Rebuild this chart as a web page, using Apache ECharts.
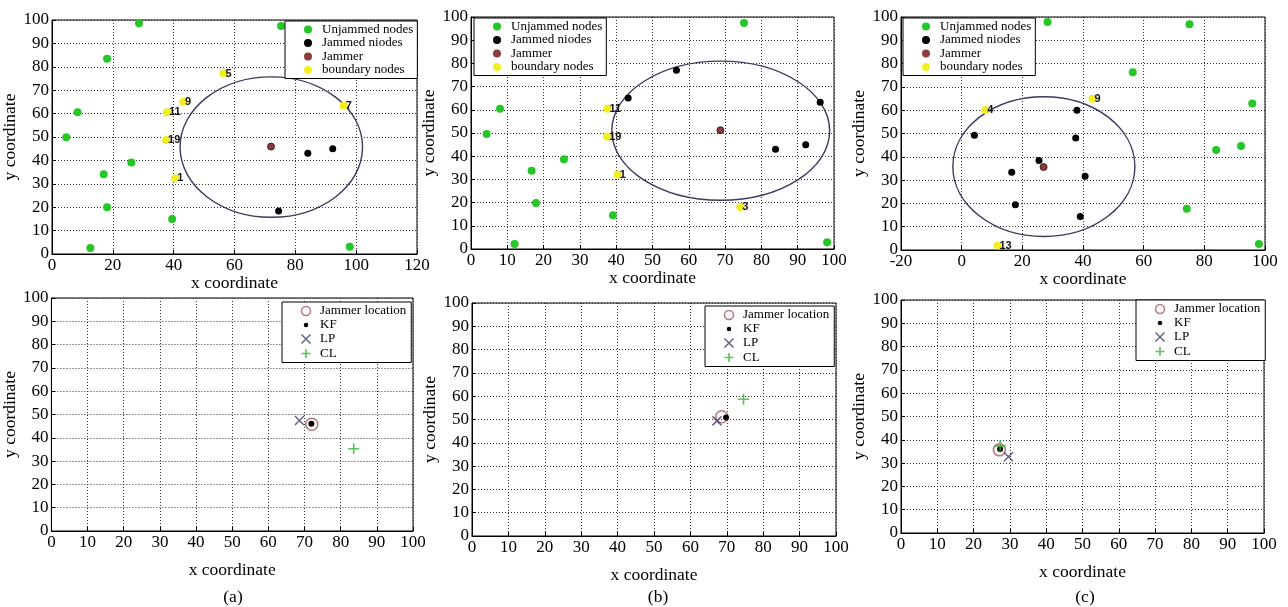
<!DOCTYPE html>
<html><head><meta charset="utf-8">
<script src="https://cdn.jsdelivr.net/npm/echarts@6/dist/echarts.min.js"></script>
<style>html,body{margin:0;padding:0;background:#fff}#c{width:1288px;height:607px}</style>
</head><body><div id="c"></div>
<script>
// ---------- Top row: sensor nodes ----------
// (a)
const aUnjammed = [[28.6,98.6],[75.3,97.4],[18.1,83.4],[8.4,60.6],[4.7,49.9],[26.1,39.1],[17.0,34.1],[18.1,20.0],[39.5,15.0],[12.6,2.6],[97.9,3.1]];
const aJammed   = [[84.1,43.1],[92.3,45.0],[74.5,18.4]];
const aJammer   = [[72.0,45.9]];
const aBoundary = [[56.4,77.1],[43.1,65.1],[37.8,60.6],[37.5,48.7],[40.5,32.4],[95.9,63.4]];
const aBoundaryIds = ['5','9','11','19','1','7'];
const aRange    = [[72.1,45.7,30]];   // centre x, centre y, radius
const aXRange   = [0,120,20];
// (b)
const bUnjammed = [[75.2,97.4],[8.0,60.4],[4.3,49.6],[25.6,38.7],[16.7,33.7],[17.9,19.8],[39.1,14.6],[12.0,2.2],[98.1,2.9]];
const bJammed   = [[56.6,77.0],[43.3,65.1],[96.2,63.3],[83.9,43.0],[92.2,44.9]];
const bJammer   = [[68.7,51.2]];
const bBoundary = [[37.6,60.4],[37.5,48.5],[40.4,32.1],[74.2,18.1]];
const bBoundaryIds = ['11','19','1','3'];
const bRange    = [[68.8,51.0,30]];
const bXRange   = [0,100,10];
// (c)
const cUnjammed = [[28.3,97.9],[75.1,96.9],[56.4,76.3],[95.8,62.9],[83.9,42.9],[92.1,44.6],[74.2,17.7],[98.0,2.6]];
const cJammed   = [[38.0,60.0],[4.2,49.3],[37.6,48.1],[25.5,38.4],[16.5,33.4],[40.7,31.7],[17.7,19.4],[39.1,14.4]];
const cJammer   = [[27.0,35.6]];
const cBoundary = [[7.8,60.1],[43.1,64.9],[11.8,1.9]];
const cBoundaryIds = ['4','9','13'];
const cRange    = [[27.1,35.8,30]];
const cXRange   = [-20,100,20];

const yRange = [0,100,10];

// ---------- Bottom row: estimated jammer location ----------
const aLoc = [[72.0,45.8]]; const aKF = [[71.9,46.0]]; const aLP = [[68.6,47.4]]; const aCL = [[83.6,35.3]];
const bLoc = [[68.6,51.2]]; const bKF = [[69.8,50.9]]; const bLP = [[67.3,49.4]]; const bCL = [[74.6,58.7]];
const cLoc = [[27.1,35.7]]; const cKF = [[27.3,36.0]]; const cLP = [[29.6,32.7]]; const cCL = [[27.3,37.4]];
const bottomXRange = [0,100,10];

const topNames = ['Unjammed nodes','Jammed niodes','Jammer','boundary nodes'];
const botNames = ['Jammer location','KF','LP','CL'];
const panelLabels = ['(a)','(b)','(c)'];

// ---------- styling ----------
const F = 'Liberation Serif';
const GREEN = '#25c725', BLACK = '#000', RED = '#6e0c0c', YEL = '#f2ee22';
const RING = '#a8585a', NAVY = '#3d3d6b', CLG = '#2fb52f';
const XPATH = 'path://M0,0L10,10M10,0L0,10';
const PPATH = 'path://M5,0L5,10M0,5L10,5';

const grids = [
  {left:52, top:20, width:365, height:234},
  {left:471, top:17, width:363, height:232},
  {left:901, top:17, width:364, height:233},
  {left:50, top:298, width:363, height:233},
  {left:472, top:303, width:364, height:233},
  {left:901, top:300, width:363, height:233}
].map(g => Object.assign({show:true, borderColor:'#000', borderWidth:1, backgroundColor:'#fff'}, g));

const splitLine = {show:true, lineStyle:{type:[1,2], color:'#333', width:1}};
function xAx(gi, r, gap){
  return {type:'value', gridIndex:gi, min:r[0], max:r[1], interval:r[2],
    name:'x coordinate', nameLocation:'middle', nameGap:gap,
    nameTextStyle:{fontFamily:F, fontSize:17.5, color:'#000'},
    axisLine:{show:true, onZero:false, lineStyle:{color:'#000', width:1}},
    axisTick:{show:true, inside:true, length:4, lineStyle:{color:'#000'}},
    axisLabel:{fontFamily:F, fontSize:17, color:'#000', margin:3},
    splitLine};
}
function yAx(gi, gap){
  return {type:'value', gridIndex:gi, min:yRange[0], max:yRange[1], interval:yRange[2],
    name:'y coordinate', nameLocation:'middle', nameGap:gap, nameRotate:90,
    nameTextStyle:{fontFamily:F, fontSize:17.5, color:'#000'},
    axisLine:{show:true, onZero:false, lineStyle:{color:'#000', width:1}},
    axisTick:{show:true, inside:true, length:4, lineStyle:{color:'#000'}},
    axisLabel:{fontFamily:F, fontSize:17, color:'#000', margin:3},
    splitLine};
}

function sc(name, gi, data, color, size, extra){
  return Object.assign({type:'scatter', name, xAxisIndex:gi, yAxisIndex:gi, data,
    symbol:'circle', symbolSize:size, itemStyle:{color, opacity:1}, silent:true, z:3}, extra||{});
}
function boundary(gi, pts, ids){
  return sc('boundary nodes', gi, pts.map((p,i)=>({value:p, name:ids[i]})), YEL, 8, {
    label:{show:true, position:'right', distance:-2, formatter:'{b}', fontFamily:'Liberation Sans',
      fontSize:11, fontWeight:'bold', color:'#111'}});
}
function rangeCircle(gi, data){
  return {type:'custom', xAxisIndex:gi, yAxisIndex:gi, data, silent:true, z:2,
    renderItem:function(params, api){
      const c = api.coord([api.value(0), api.value(1)]);
      const s = api.size([api.value(2), api.value(2)]);
      return {type:'ellipse', shape:{cx:c[0], cy:c[1], rx:s[0], ry:s[1]},
        style:{fill:'none', stroke:'#3a3a5e', lineWidth:1.4}};
    }};
}
function topSeries(gi, un, jd, jr, bd, ids, rg){
  return [
    rangeCircle(gi, rg),
    sc('Unjammed nodes', gi, un, GREEN, 8),
    sc('Jammed niodes', gi, jd, BLACK, 7),
    sc('Jammer', gi, jr, RED, 7, {itemStyle:{color:RED, borderColor:'#3a0303', borderWidth:1}}),
    boundary(gi, bd, ids)
  ];
}
function botSeries(gi, loc, kf, lp, cl){
  return [
    sc('Jammer location', gi, loc, 'rgba(0,0,0,0)', 12, {itemStyle:{color:'rgba(0,0,0,0)', borderColor:RING, borderWidth:1.6}}),
    sc('KF', gi, kf, BLACK, 6),
    sc('LP', gi, lp, 'rgba(0,0,0,0)', 9, {symbol:XPATH, itemStyle:{color:'rgba(0,0,0,0)', borderColor:NAVY, borderWidth:1.5}}),
    sc('CL', gi, cl, 'rgba(0,0,0,0)', 11, {symbol:PPATH, itemStyle:{color:'rgba(0,0,0,0)', borderColor:CLG, borderWidth:1.6}})
  ];
}

function legendBox(pos, kind){
  const base = {orient:'vertical', selectedMode:false, backgroundColor:'#fff', borderColor:'#000', borderWidth:1,
    borderRadius:0, padding:kind==='top'?[2,4,2,19]:[2,5,2,17], itemWidth:18, itemHeight:kind==='top'?8:9, itemGap:0.5,
    textStyle:{fontFamily:F, fontSize:13, color:'#000', lineHeight:12}};
  base.data = kind==='top' ? [
    {name:topNames[0], icon:'circle', itemStyle:{color:GREEN, borderWidth:0}},
    {name:topNames[1], icon:'circle', itemStyle:{color:BLACK, borderWidth:0}},
    {name:topNames[2], icon:'circle', itemStyle:{color:RED, borderWidth:0}},
    {name:topNames[3], icon:'circle', itemStyle:{color:YEL, borderWidth:0}}
  ] : [
    {name:botNames[0], icon:'circle', itemStyle:{color:'none', borderColor:RING, borderWidth:1.5}},
    {name:botNames[1], icon:'path://M0,0M10,10M2.5,5a2.5,2.5 0 1,0 5,0a2.5,2.5 0 1,0 -5,0', itemStyle:{color:BLACK, borderWidth:0}},
    {name:botNames[2], icon:XPATH, itemStyle:{color:'none', borderColor:NAVY, borderWidth:1.5}},
    {name:botNames[3], icon:PPATH, itemStyle:{color:'none', borderColor:CLG, borderWidth:1.6}}
  ];
  return Object.assign(base, pos);
}

const option = {
  animation:false,
  backgroundColor:'#fff',
  grid: grids,
  xAxis: [xAx(0,aXRange,17), xAx(1,bXRange,17), xAx(2,cXRange,17),
          xAx(3,bottomXRange,30), xAx(4,bottomXRange,30), xAx(5,bottomXRange,30)],
  yAxis: [yAx(0,31), yAx(1,25), yAx(2,27), yAx(3,28), yAx(4,25), yAx(5,27)],
  legend: [
    legendBox({left:285, top:21}, 'top'),
    legendBox({left:474, top:18}, 'top'),
    legendBox({left:903, top:18}, 'top'),
    legendBox({left:282, top:302}, 'bot'),
    legendBox({left:705, top:306}, 'bot'),
    legendBox({left:1136, top:300}, 'bot')
  ],
  series: [].concat(
    topSeries(0, aUnjammed, aJammed, aJammer, aBoundary, aBoundaryIds, aRange),
    topSeries(1, bUnjammed, bJammed, bJammer, bBoundary, bBoundaryIds, bRange),
    topSeries(2, cUnjammed, cJammed, cJammer, cBoundary, cBoundaryIds, cRange),
    botSeries(3, aLoc, aKF, aLP, aCL),
    botSeries(4, bLoc, bKF, bLP, bCL),
    botSeries(5, cLoc, cKF, cLP, cCL)
  ),
  graphic: [
    {type:'text', x:233, y:597, style:{text:panelLabels[0], font:'17.5px "Liberation Serif"', fill:'#000', align:'center', verticalAlign:'middle'}},
    {type:'text', x:658, y:597, style:{text:panelLabels[1], font:'17.5px "Liberation Serif"', fill:'#000', align:'center', verticalAlign:'middle'}},
    {type:'text', x:1085, y:597, style:{text:panelLabels[2], font:'17.5px "Liberation Serif"', fill:'#000', align:'center', verticalAlign:'middle'}}
  ]
};
const chart = echarts.init(document.getElementById('c'), null, {renderer:'canvas'});
chart.setOption(option);
</script></body></html>
